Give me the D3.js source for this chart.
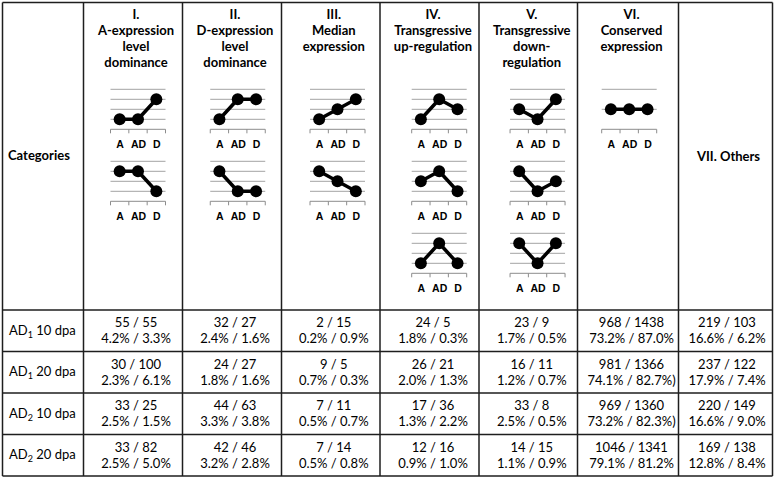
<!DOCTYPE html>
<html>
<head>
<meta charset="utf-8">
<script src="https://cdn.jsdelivr.net/npm/d3@7"></script>
<style>
  html, body { margin: 0; padding: 0; background: #fff; }
  svg { display: block; }
</style>
</head>
<body>
<script>
// ---------------- DATA ----------------
const categories = ["A", "AD", "D"];

const headerLines = [
  ["I.", "A-expression", "level", "dominance"],
  ["II.", "D-expression", "level", "dominance"],
  ["III.", "Median", "expression"],
  ["IV.", "Transgressive", "up-regulation"],
  ["V.", "Transgressive", "down-", "regulation"],
  ["VI.", "Conserved", "expression"]
];
const othersLabel = "VII. Others";
const cornerLabel = "Categories";

// expression-level patterns (levels on a 0-4 grid) for each category column
const patterns = [
  [[1, 1, 3], [3, 3, 1]],
  [[1, 3, 3], [3, 1, 1]],
  [[1, 2, 3], [3, 2, 1]],
  [[1, 3, 2], [2, 3, 1], [1, 3, 1]],
  [[2, 1, 3], [3, 1, 2], [3, 1, 3]],
  [[2, 2, 2]]
];
const gridLevels = [
  [1, 2, 3, 4], [1, 2, 3, 4], [1, 2, 3, 4], [1, 2, 3, 4], [1, 2, 3, 4], [2, 4]
];

const rowGenome = ["1", "1", "2", "2"];
const rowStage = ["10 dpa", "20 dpa", "10 dpa", "20 dpa"];

const countsFirst = [
  [55, 32, 2, 24, 23, 968, 219],
  [30, 24, 9, 26, 16, 981, 237],
  [33, 44, 7, 17, 33, 969, 220],
  [33, 42, 7, 12, 14, 1046, 169]
];
const countsSecond = [
  [55, 27, 15, 5, 9, 1438, 103],
  [100, 27, 5, 21, 11, 1366, 122],
  [25, 63, 11, 36, 8, 1360, 149],
  [82, 46, 14, 16, 15, 1341, 138]
];
const pctFirst = [
  [4.2, 2.4, 0.2, 1.8, 1.7, 73.2, 16.6],
  [2.3, 1.8, 0.7, 2.0, 1.2, 74.1, 17.9],
  [2.5, 3.3, 0.5, 1.3, 2.5, 73.2, 16.6],
  [2.5, 3.2, 0.5, 0.9, 1.1, 79.1, 12.8]
];
const pctSecond = [
  [3.3, 1.6, 0.9, 0.3, 0.5, 87.0, 6.2],
  [6.1, 1.6, 0.3, 1.3, 0.7, 82.7, 7.4],
  [1.5, 3.8, 0.7, 2.2, 0.5, 82.3, 9.0],
  [5.0, 2.8, 0.8, 1.0, 0.9, 81.2, 8.4]
];
// cells whose second percentage is printed with a stray ")"
const strayParen = [[1, 5], [2, 5]];

// ---------------- LAYOUT ----------------
const W = 774, H = 479;
const colEdges = [2.5, 83.5, 182.5, 281.5, 380, 479, 577.5, 678.5, 772.5];
const rowEdges = [2.5, 310, 351.5, 393, 434.5, 476];
const textShift = [3, 3, 3, 3.5, 3.5, 3.5, 1.5];
const chartShift = [5, 5.75, 6.75, 9.7, 9.3, 1.2];
const chartW = 55, chartH = 40, firstAxisY = 129.3, chartStep = 72;

const FONT = "Lato, 'Open Sans', sans-serif";
const svg = d3.select("body").append("svg").attr("width", W).attr("height", H);

// column centre helper
const colCenter = i => (colEdges[i] + colEdges[i + 1]) / 2;

// ---------- header text ----------
headerLines.forEach((lines, c) => {
  const cx = colCenter(c + 1) + textShift[c];
  const t = svg.append("text")
    .attr("text-anchor", "middle")
    .attr("font-family", FONT).attr("font-weight", "bold")
    .attr("font-size", 13).attr("fill", "#000");
  lines.forEach((ln, i) => {
    t.append("tspan").attr("x", cx).attr("y", 18.5 + i * 16.3).text(ln);
  });
});
svg.append("text").attr("x", 8).attr("y", 160)
  .attr("font-family", FONT).attr("font-weight", "bold").attr("font-size", 13)
  .text(cornerLabel);
svg.append("text").attr("x", colCenter(7) + 3).attr("y", 161)
  .attr("text-anchor", "middle")
  .attr("font-family", FONT).attr("font-weight", "bold").attr("font-size", 13)
  .text(othersLabel);

// ---------- mini charts ----------
const line = d3.line();
patterns.forEach((pats, c) => {
  const x0 = colCenter(c + 1) + chartShift[c] - chartW / 2;
  const x = d3.scalePoint().domain(categories).range([x0, x0 + chartW]).padding(0.5);
  pats.forEach((vals, k) => {
    const axisY = firstAxisY + k * chartStep;
    const y = d3.scaleLinear().domain([0, 4]).range([axisY, axisY - chartH]);
    const g = svg.append("g");
    // gridlines
    g.selectAll("line.grid").data(gridLevels[c]).join("line")
      .attr("x1", x0).attr("x2", x0 + chartW)
      .attr("y1", d => y(d)).attr("y2", d => y(d))
      .attr("stroke", "#a3a3a3").attr("stroke-width", 1);
    // axis line and boundary ticks
    g.append("line").attr("x1", x0).attr("x2", x0 + chartW)
      .attr("y1", y(0)).attr("y2", y(0))
      .attr("stroke", "#8c8c8c").attr("stroke-width", 1);
    g.selectAll("line.tick").data(d3.range(categories.length + 1)).join("line")
      .attr("x1", i => x0 + i * chartW / categories.length)
      .attr("x2", i => x0 + i * chartW / categories.length)
      .attr("y1", y(0)).attr("y2", y(0) + 4)
      .attr("stroke", "#8c8c8c").attr("stroke-width", 1);
    // category labels via axis
    const ax = g.append("g").attr("transform", `translate(0,${y(0)})`)
      .call(d3.axisBottom(x).tickSize(0).tickPadding(11.5));
    ax.select(".domain").remove();
    ax.selectAll("text")
      .attr("font-family", "'Liberation Sans', Arial, sans-serif")
      .attr("font-weight", "bold").attr("font-size", 10.5).attr("fill", "#000");
    // pattern line + points
    const pts = vals.map((v, i) => [x(categories[i]), y(v)]);
    g.append("path").attr("d", line(pts))
      .attr("fill", "none").attr("stroke", "#000").attr("stroke-width", 3.5)
      .attr("stroke-linejoin", "round");
    g.selectAll("circle").data(pts).join("circle")
      .attr("cx", d => d[0]).attr("cy", d => d[1]).attr("r", 6).attr("fill", "#000");
  });
});

// ---------- data rows ----------
const fmt = d3.format(".1f");
rowStage.forEach((stage, r) => {
  const cy = (rowEdges[r + 1] + rowEdges[r + 2]) / 2;
  const lab = svg.append("text").attr("x", 9).attr("y", cy + 4)
    .attr("font-family", FONT).attr("font-size", 13);
  lab.append("tspan").text("AD");
  lab.append("tspan").attr("font-size", 9).attr("dy", 3).text(rowGenome[r]);
  lab.append("tspan").attr("dy", -3).text(" " + stage);

  countsFirst[r].forEach((v, c) => {
    const cx = colCenter(c + 1) + textShift[c];
    const paren = strayParen.some(p => p[0] === r && p[1] === c) ? ")" : "";
    svg.append("text").attr("x", cx).attr("y", cy - 3.5)
      .attr("text-anchor", "middle").attr("font-family", FONT).attr("font-size", 13)
      .text(`${v} / ${countsSecond[r][c]}`);
    svg.append("text").attr("x", cx).attr("y", cy + 12.5)
      .attr("text-anchor", "middle").attr("font-family", FONT).attr("font-size", 13)
      .text(`${fmt(pctFirst[r][c])}% / ${fmt(pctSecond[r][c])}%${paren}`);
  });
});

// ---------- table borders ----------
const bg = svg.append("g").attr("stroke", "#1e1e1e").attr("stroke-width", 1.5);
colEdges.forEach(xv => bg.append("line")
  .attr("x1", xv).attr("x2", xv).attr("y1", rowEdges[0]).attr("y2", rowEdges[rowEdges.length - 1]));
rowEdges.forEach(yv => bg.append("line")
  .attr("x1", colEdges[0]).attr("x2", colEdges[colEdges.length - 1]).attr("y1", yv).attr("y2", yv));
</script>
</body>
</html>
